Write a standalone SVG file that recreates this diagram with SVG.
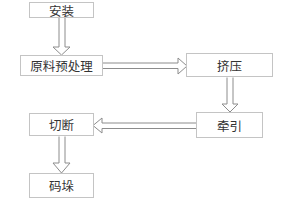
<svg xmlns="http://www.w3.org/2000/svg" width="295" height="200" viewBox="0 0 295 200">
<style>
.box{fill:#fff;stroke:#c4c4c4;stroke-width:1}
.t{font-family:"Noto Sans CJK SC",sans-serif;font-size:12.5px;fill:#333;text-anchor:middle;dominant-baseline:central}
.arr{fill:#fff;stroke:#8c8c8c;stroke-width:1;stroke-linejoin:miter}
</style>
<rect width="295" height="200" fill="#fff"/>
<g id="connectors">
<path class="arr" d="M59,17.5 V47 H53 L61.5,55 L70,47 H65 V17.5"/>
<path class="arr" d="M102.5,63 H178 V58 L187,66 L178,74 V68.5 H102.5"/>
<path class="arr" d="M227,77.5 V104 H222 L230,112 L238,104 H233 V77.5"/>
<path class="arr" d="M196.5,123 H102 V118 L93,125.5 L102,133 V128.5 H196.5"/>
<path class="arr" d="M59,136.5 V163 H53 L61.5,173 L70,163 H65 V136.5"/>
</g>
<g id="n1"><rect class="box" x="29.5" y="2.5" width="64" height="15"/><text class="t" x="61.5" y="10">安装</text></g>
<g id="n2"><rect class="box" x="20.5" y="55.5" width="82" height="20"/><text class="t" x="61.5" y="65.5">原料预处理</text></g>
<g id="n3"><rect class="box" x="186.5" y="53.5" width="86" height="23"/><text class="t" x="229.5" y="65">挤压</text></g>
<g id="n4"><rect class="box" x="196.5" y="112.5" width="66" height="25"/><text class="t" x="229.5" y="125">牵引</text></g>
<g id="n5"><rect class="box" x="29.5" y="113.5" width="64" height="22"/><text class="t" x="61.5" y="124.5">切断</text></g>
<g id="n6"><rect class="box" x="29.5" y="173.5" width="64" height="24"/><text class="t" x="61.5" y="185.5">码垛</text></g>
</svg>
